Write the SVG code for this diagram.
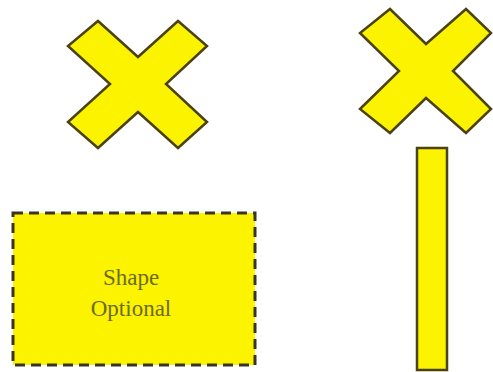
<svg xmlns="http://www.w3.org/2000/svg" width="493" height="372" viewBox="0 0 493 372">
<style>
.shape{fill:#fbf300;stroke:#4a4210;stroke-width:2.5;stroke-linejoin:miter}
.dash{fill:#fbf300;stroke:#3a3520;stroke-width:3;stroke-dasharray:10 6}
.lbl{font-family:"Liberation Serif","Times New Roman",serif;font-size:23px;fill:#6e6a1c;text-anchor:middle}
</style>
<rect width="493" height="372" fill="#ffffff"/>
<g id="cross1">
<polygon class="shape" points="138,57 178,21 207,46 166,84 207,122 178,148 138,112 98,148 68,122 110,84 68,46 98,21"/>
</g>
<g id="cross2">
<polygon class="shape" points="426,44 466,9 491,33 453,71 491,109 466,133 426,98 390,133 360,109 399,71 360,33 390,9"/>
</g>
<g id="optional">
<rect class="dash" x="13" y="213" width="242" height="152"/>
<text class="lbl" x="131" y="285">Shape</text>
<text class="lbl" x="131" y="316">Optional</text>
</g>
<g id="bar">
<rect class="shape" x="417" y="148" width="30" height="222"/>
</g>
<g id="connectors"></g>
</svg>
